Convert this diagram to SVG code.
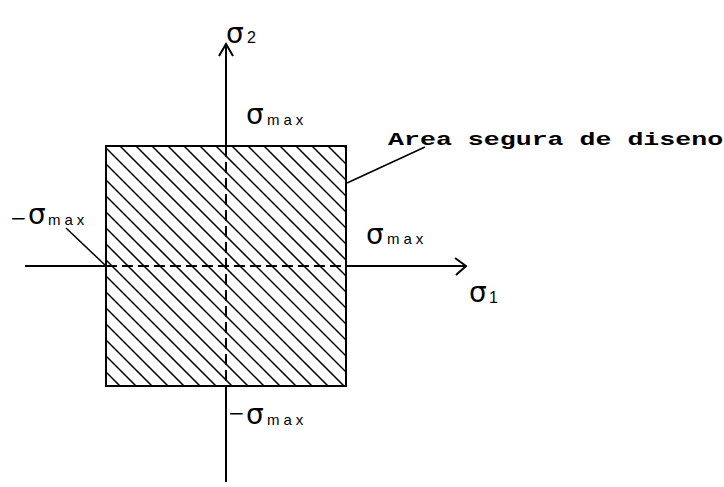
<svg xmlns="http://www.w3.org/2000/svg" width="724" height="487" viewBox="0 0 724 487">
  <style>
    .ax { stroke: #000; stroke-width: 2; fill: none; }
    .dash { stroke: #000; stroke-width: 2; fill: none; stroke-dasharray: 11 5; }
    .hatch { stroke: #000; stroke-width: 1.5; fill: none; }
    .lead { stroke: #000; stroke-width: 1.5; fill: none; }
    .sig { font-family: "DejaVu Sans", sans-serif; font-size: 28px; fill: #000; }
    .neg { font-family: "DejaVu Sans", sans-serif; font-size: 20px; fill: #000; }
    .sub { font-family: "Liberation Sans", Arial, sans-serif; font-size: 15px; fill: #000; letter-spacing: 4px; }
    .idx { font-family: "Liberation Sans", Arial, sans-serif; font-size: 16px; fill: #000; }
    .note { font-family: "Liberation Mono", "DejaVu Sans Mono", monospace; font-size: 19px; font-weight: bold; fill: #000; }
  </style>
  <defs>
    <clipPath id="clipRegion">
      <rect x="106" y="146" width="240" height="240"/>
    </clipPath>
  </defs>
  <rect width="724" height="487" fill="#fff"/>

  <g id="safe-area">
    <g clip-path="url(#clipRegion)">
      <path class="hatch" d="M-126 140 L124 390 M-110 140 L140 390 M-94 140 L156 390 M-78 140 L172 390 M-62 140 L188 390 M-46 140 L204 390 M-30 140 L220 390 M-14 140 L236 390 M2 140 L252 390 M18 140 L268 390 M34 140 L284 390 M50 140 L300 390 M66 140 L316 390 M82 140 L332 390 M98 140 L348 390 M114 140 L364 390 M130 140 L380 390 M146 140 L396 390 M162 140 L412 390 M178 140 L428 390 M194 140 L444 390 M210 140 L460 390 M226 140 L476 390 M242 140 L492 390 M258 140 L508 390 M274 140 L524 390 M290 140 L540 390 M306 140 L556 390 M322 140 L572 390 M338 140 L588 390"/>
    </g>
    <rect class="ax" x="106" y="146" width="240" height="240"/>
  </g>

  <g id="connectors">
    <g id="axis-sigma2">
      <path class="ax" d="M226 44 L226 146 M226 386 L226 482"/>
      <path class="dash" d="M226 146 L226 386"/>
      <path class="ax" d="M219 56 L226 44 L233 56"/>
    </g>
    <g id="axis-sigma1">
      <path class="ax" d="M25 266 L106 266 M346 266 L465 266"/>
      <path class="dash" d="M106 266 L346 266"/>
      <path class="ax" d="M455 258 L466 266 L456 275"/>
    </g>
    <path id="leader-area" class="lead" d="M347 183 L425 147"/>
    <path id="leader-left" class="lead" d="M66 228 L105 265"/>
  </g>

  <g id="label-sigma2">
    <text class="sig" x="226" y="43">σ</text>
    <text class="idx" x="247" y="43">2</text>
  </g>
  <g id="label-top-max">
    <text class="sig" x="246" y="124">σ</text>
    <text class="sub" x="267" y="125">max</text>
  </g>
  <g id="label-left-max">
    <text class="neg" x="10" y="225">−</text>
    <text class="sig" x="28" y="224">σ</text>
    <text class="sub" x="48" y="225">max</text>
  </g>
  <g id="label-right-max">
    <text class="sig" x="366" y="244">σ</text>
    <text class="sub" x="387" y="244">max</text>
  </g>
  <g id="label-sigma1">
    <text class="sig" x="469" y="302">σ</text>
    <text class="idx" x="489" y="303">1</text>
  </g>
  <g id="label-bottom-max">
    <text class="neg" x="228" y="420">−</text>
    <text class="sig" x="246" y="424">σ</text>
    <text class="sub" x="267" y="425">max</text>
  </g>
  <g id="label-area">
    <text class="note" transform="translate(388 145) scale(1.4 1)" x="0" y="0">Area segura de diseno</text>
  </g>
</svg>
